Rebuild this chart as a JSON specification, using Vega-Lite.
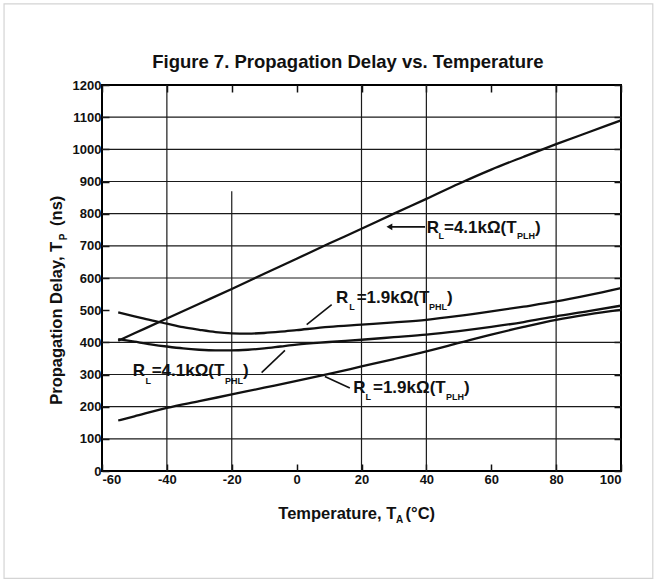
{
  "$schema": "https://vega.github.io/schema/vega-lite/v6.json",
  "width": 519,
  "height": 386,
  "autosize": {"type": "none"},
  "padding": {"left": 102, "top": 85, "right": 38, "bottom": 112},
  "background": "white",
  "config": {
    "view": {"stroke": "black", "strokeWidth": 2},
    "font": "Liberation Sans"
  },
  "datasets": {
    "curves": [
      {"series": "RL=4.1kΩ (TPLH)", "T": -55, "D": 405},
      {"series": "RL=4.1kΩ (TPLH)", "T": -50, "D": 428},
      {"series": "RL=4.1kΩ (TPLH)", "T": -40, "D": 474},
      {"series": "RL=4.1kΩ (TPLH)", "T": -30, "D": 520},
      {"series": "RL=4.1kΩ (TPLH)", "T": -20, "D": 566},
      {"series": "RL=4.1kΩ (TPLH)", "T": -10, "D": 613},
      {"series": "RL=4.1kΩ (TPLH)", "T": 0, "D": 660},
      {"series": "RL=4.1kΩ (TPLH)", "T": 10, "D": 707},
      {"series": "RL=4.1kΩ (TPLH)", "T": 20, "D": 753},
      {"series": "RL=4.1kΩ (TPLH)", "T": 30, "D": 800},
      {"series": "RL=4.1kΩ (TPLH)", "T": 40, "D": 846},
      {"series": "RL=4.1kΩ (TPLH)", "T": 50, "D": 893},
      {"series": "RL=4.1kΩ (TPLH)", "T": 60, "D": 937},
      {"series": "RL=4.1kΩ (TPLH)", "T": 70, "D": 977},
      {"series": "RL=4.1kΩ (TPLH)", "T": 80, "D": 1016},
      {"series": "RL=4.1kΩ (TPLH)", "T": 90, "D": 1053},
      {"series": "RL=4.1kΩ (TPLH)", "T": 100, "D": 1090},
      {"series": "RL=1.9kΩ (TPHL)", "T": -55, "D": 493},
      {"series": "RL=1.9kΩ (TPHL)", "T": -50, "D": 481},
      {"series": "RL=1.9kΩ (TPHL)", "T": -45, "D": 469},
      {"series": "RL=1.9kΩ (TPHL)", "T": -40, "D": 458},
      {"series": "RL=1.9kΩ (TPHL)", "T": -35, "D": 447},
      {"series": "RL=1.9kΩ (TPHL)", "T": -30, "D": 439},
      {"series": "RL=1.9kΩ (TPHL)", "T": -25, "D": 432},
      {"series": "RL=1.9kΩ (TPHL)", "T": -20, "D": 428},
      {"series": "RL=1.9kΩ (TPHL)", "T": -15, "D": 427},
      {"series": "RL=1.9kΩ (TPHL)", "T": -10, "D": 429},
      {"series": "RL=1.9kΩ (TPHL)", "T": -5, "D": 433},
      {"series": "RL=1.9kΩ (TPHL)", "T": 0, "D": 438},
      {"series": "RL=1.9kΩ (TPHL)", "T": 10, "D": 448},
      {"series": "RL=1.9kΩ (TPHL)", "T": 20, "D": 455},
      {"series": "RL=1.9kΩ (TPHL)", "T": 30, "D": 462},
      {"series": "RL=1.9kΩ (TPHL)", "T": 40, "D": 470},
      {"series": "RL=1.9kΩ (TPHL)", "T": 50, "D": 482},
      {"series": "RL=1.9kΩ (TPHL)", "T": 60, "D": 496},
      {"series": "RL=1.9kΩ (TPHL)", "T": 70, "D": 511},
      {"series": "RL=1.9kΩ (TPHL)", "T": 80, "D": 527},
      {"series": "RL=1.9kΩ (TPHL)", "T": 90, "D": 547},
      {"series": "RL=1.9kΩ (TPHL)", "T": 100, "D": 569},
      {"series": "RL=4.1kΩ (TPHL)", "T": -55, "D": 410},
      {"series": "RL=4.1kΩ (TPHL)", "T": -50, "D": 402},
      {"series": "RL=4.1kΩ (TPHL)", "T": -45, "D": 394},
      {"series": "RL=4.1kΩ (TPHL)", "T": -40, "D": 387},
      {"series": "RL=4.1kΩ (TPHL)", "T": -35, "D": 381},
      {"series": "RL=4.1kΩ (TPHL)", "T": -30, "D": 377},
      {"series": "RL=4.1kΩ (TPHL)", "T": -25, "D": 375},
      {"series": "RL=4.1kΩ (TPHL)", "T": -20, "D": 375},
      {"series": "RL=4.1kΩ (TPHL)", "T": -15, "D": 377},
      {"series": "RL=4.1kΩ (TPHL)", "T": -10, "D": 381},
      {"series": "RL=4.1kΩ (TPHL)", "T": -5, "D": 387},
      {"series": "RL=4.1kΩ (TPHL)", "T": 0, "D": 393},
      {"series": "RL=4.1kΩ (TPHL)", "T": 10, "D": 401},
      {"series": "RL=4.1kΩ (TPHL)", "T": 20, "D": 408},
      {"series": "RL=4.1kΩ (TPHL)", "T": 30, "D": 416},
      {"series": "RL=4.1kΩ (TPHL)", "T": 40, "D": 424},
      {"series": "RL=4.1kΩ (TPHL)", "T": 50, "D": 435},
      {"series": "RL=4.1kΩ (TPHL)", "T": 60, "D": 448},
      {"series": "RL=4.1kΩ (TPHL)", "T": 70, "D": 463},
      {"series": "RL=4.1kΩ (TPHL)", "T": 80, "D": 481},
      {"series": "RL=4.1kΩ (TPHL)", "T": 90, "D": 497},
      {"series": "RL=4.1kΩ (TPHL)", "T": 100, "D": 514},
      {"series": "RL=1.9kΩ (TPLH)", "T": -55, "D": 157},
      {"series": "RL=1.9kΩ (TPLH)", "T": -50, "D": 170},
      {"series": "RL=1.9kΩ (TPLH)", "T": -40, "D": 196},
      {"series": "RL=1.9kΩ (TPLH)", "T": -30, "D": 217},
      {"series": "RL=1.9kΩ (TPLH)", "T": -20, "D": 238},
      {"series": "RL=1.9kΩ (TPLH)", "T": -10, "D": 259},
      {"series": "RL=1.9kΩ (TPLH)", "T": 0, "D": 280},
      {"series": "RL=1.9kΩ (TPLH)", "T": 10, "D": 302},
      {"series": "RL=1.9kΩ (TPLH)", "T": 20, "D": 325},
      {"series": "RL=1.9kΩ (TPLH)", "T": 30, "D": 348},
      {"series": "RL=1.9kΩ (TPLH)", "T": 40, "D": 372},
      {"series": "RL=1.9kΩ (TPLH)", "T": 50, "D": 398},
      {"series": "RL=1.9kΩ (TPLH)", "T": 60, "D": 424},
      {"series": "RL=1.9kΩ (TPLH)", "T": 70, "D": 448},
      {"series": "RL=1.9kΩ (TPLH)", "T": 80, "D": 470},
      {"series": "RL=1.9kΩ (TPLH)", "T": 90, "D": 487},
      {"series": "RL=1.9kΩ (TPLH)", "T": 100, "D": 501}
    ],
    "grid": [
      {"t1": -60, "t2": 100, "d1": 100, "d2": 100},
      {"t1": -60, "t2": 100, "d1": 200, "d2": 200},
      {"t1": -60, "t2": 100, "d1": 300, "d2": 300},
      {"t1": -60, "t2": 100, "d1": 400, "d2": 400},
      {"t1": -60, "t2": 100, "d1": 600, "d2": 600},
      {"t1": -60, "t2": 100, "d1": 700, "d2": 700},
      {"t1": -60, "t2": 100, "d1": 800, "d2": 800},
      {"t1": -60, "t2": 100, "d1": 900, "d2": 900},
      {"t1": -60, "t2": 100, "d1": 1000, "d2": 1000},
      {"t1": -60, "t2": 100, "d1": 1100, "d2": 1100},
      {"t1": -40, "t2": -40, "d1": 0, "d2": 1200},
      {"t1": -20, "t2": -20, "d1": 0, "d2": 870},
      {"t1": 20, "t2": 20, "d1": 0, "d2": 1200},
      {"t1": 40, "t2": 40, "d1": 0, "d2": 1200},
      {"t1": 80, "t2": 80, "d1": 0, "d2": 1200}
    ],
    "arrows": [
      {"t1": 39.6, "d1": 759, "t2": 28.5, "d2": 759},
      {"t1": 3.1, "d1": 455, "t2": 10.8, "d2": 517},
      {"t1": -10.8, "d1": 306, "t2": -3.6, "d2": 375},
      {"t1": 8.7, "d1": 294, "t2": 16.4, "d2": 258}
    ],
    "heads": [
      {"T": 28.6, "D": 759}
    ],
    "title": [
      {"txt": "Figure 7. Propagation Delay vs. Temperature", "T": 15.8, "D": 1252}
    ],
    "labels": [
      {"txt": "R", "T": 40.09, "D": 740},
      {"txt": "=4.1kΩ(T", "T": 45.42, "D": 740},
      {"txt": ")", "T": 73.5, "D": 740},
      {"txt": "R", "T": 12.13, "D": 522},
      {"txt": "=1.9kΩ(T", "T": 18.51, "D": 522},
      {"txt": ")", "T": 46.35, "D": 522},
      {"txt": "R", "T": -50.54, "D": 294},
      {"txt": "=4.1kΩ(T", "T": -44.68, "D": 294},
      {"txt": ")", "T": -16.54, "D": 294},
      {"txt": "R", "T": 17.47, "D": 242},
      {"txt": "=1.9kΩ(T", "T": 23.54, "D": 242},
      {"txt": ")", "T": 51.6, "D": 242}
    ],
    "subs": [
      {"txt": "L", "T": 43.73, "D": 720},
      {"txt": "PLH", "T": 67.9, "D": 720},
      {"txt": "L", "T": 16.23, "D": 499},
      {"txt": "PHL", "T": 40.8, "D": 501},
      {"txt": "L", "T": -46.6, "D": 272},
      {"txt": "PHL", "T": -22.08, "D": 272},
      {"txt": "L", "T": 21.23, "D": 220},
      {"txt": "PLH", "T": 46.04, "D": 220}
    ],
    "xtitle": [
      {"txt": "Temperature, T", "T": -5.65, "D": -149},
      {"txt": "(°C)", "T": 33.6, "D": -149}
    ],
    "xtitlesub": [
      {"txt": "A", "T": 30.6, "D": -163}
    ],
    "ytitle": [
      {"txt": "Propagation Delay, T", "T": -72.4, "D": 206},
      {"txt": "(ns)", "T": -72.4, "D": 762}
    ],
    "ytitlesub": [
      {"txt": "P", "T": -70.9, "D": 717}
    ],
    "frame": [
      {"t1": -90.2, "t2": 109.8, "d1": 1452, "d2": -334}
    ]
  },
  "resolve": {"axis": {"x": "independent", "y": "independent"}},
  "layer": [
    {
      "data": {"name": "frame"},
      "mark": {"type": "rect", "fill": null, "stroke": "#d4d4d4", "strokeWidth": 1.2},
      "encoding": {
        "x": {"field": "t1", "type": "quantitative", "scale": {"domain": [-60, 100], "nice": false}, "axis": null},
        "x2": {"field": "t2"},
        "y": {"field": "d1", "type": "quantitative", "scale": {"domain": [0, 1200], "nice": false}, "axis": null},
        "y2": {"field": "d2"}
      }
    },
    {
      "data": {"name": "grid"},
      "mark": {"type": "rule", "color": "#1a1a1a", "strokeWidth": 1.2},
      "encoding": {
        "x": {"field": "t1", "type": "quantitative", "axis": null},
        "x2": {"field": "t2"},
        "y": {"field": "d1", "type": "quantitative", "axis": null},
        "y2": {"field": "d2"}
      }
    },
    {
      "data": {"name": "curves"},
      "mark": {"type": "line", "color": "#111", "strokeWidth": 2.3, "interpolate": "monotone"},
      "encoding": {
        "x": {
          "field": "T", "type": "quantitative",
          "axis": {
            "orient": "bottom", "values": [-60, -40, -20, 0, 20, 40, 60, 80, 100],
            "labelExpr": "'' + datum.value",
            "title": null, "grid": false, "domain": false,
            "tickSize": -7, "tickColor": "#111", "tickWidth": 1.5,
            "labelFont": "Liberation Sans", "labelFontWeight": "bold", "labelFontSize": 13,
            "labelColor": "#111", "labelPadding": 9
          }
        },
        "y": {
          "field": "D", "type": "quantitative",
          "axis": {
            "orient": "left", "values": [0, 100, 200, 300, 400, 500, 600, 700, 800, 900, 1000, 1100, 1200],
            "labelExpr": "'' + datum.value",
            "title": null, "grid": false, "domain": false,
            "tickSize": -7, "tickColor": "#111", "tickWidth": 1.5,
            "labelFont": "Liberation Sans", "labelFontWeight": "bold", "labelFontSize": 13,
            "labelColor": "#111", "labelPadding": 8
          }
        },
        "detail": {"field": "series", "type": "nominal"}
      }
    },
    {
      "data": {"name": "arrows"},
      "mark": {"type": "rule", "color": "#111", "strokeWidth": 1.6},
      "encoding": {
        "x": {
          "field": "t1", "type": "quantitative",
          "axis": {
            "orient": "top", "values": [-60, -40, -20, 0, 20, 40, 60, 80, 100],
            "title": null, "grid": false, "domain": false, "labels": false,
            "tickSize": -7, "tickColor": "#111", "tickWidth": 1.5
          }
        },
        "x2": {"field": "t2"},
        "y": {
          "field": "d1", "type": "quantitative",
          "axis": {
            "orient": "right", "values": [0, 100, 200, 300, 400, 500, 600, 700, 800, 900, 1000, 1100, 1200],
            "title": null, "grid": false, "domain": false, "labels": false,
            "tickSize": -7, "tickColor": "#111", "tickWidth": 1.5
          }
        },
        "y2": {"field": "d2"}
      }
    },
    {
      "data": {"name": "heads"},
      "mark": {"type": "point", "shape": "triangle-left", "filled": true, "color": "#111", "size": 45, "opacity": 1},
      "encoding": {
        "x": {"field": "T", "type": "quantitative", "axis": null},
        "y": {"field": "D", "type": "quantitative", "axis": null}
      }
    },
    {
      "data": {"name": "title"},
      "mark": {"type": "text", "align": "center", "baseline": "alphabetic", "font": "Liberation Sans", "fontWeight": "bold", "fontSize": 18.5, "color": "#111"},
      "encoding": {
        "x": {"field": "T", "type": "quantitative", "axis": null},
        "y": {"field": "D", "type": "quantitative", "axis": null},
        "text": {"field": "txt"}
      }
    },
    {
      "data": {"name": "labels"},
      "mark": {"type": "text", "align": "left", "baseline": "alphabetic", "font": "Liberation Sans", "fontWeight": "bold", "fontSize": 17, "color": "#111"},
      "encoding": {
        "x": {"field": "T", "type": "quantitative", "axis": null},
        "y": {"field": "D", "type": "quantitative", "axis": null},
        "text": {"field": "txt"}
      }
    },
    {
      "data": {"name": "subs"},
      "mark": {"type": "text", "align": "left", "baseline": "alphabetic", "font": "Liberation Sans", "fontWeight": "bold", "fontSize": 9, "color": "#111"},
      "encoding": {
        "x": {"field": "T", "type": "quantitative", "axis": null},
        "y": {"field": "D", "type": "quantitative", "axis": null},
        "text": {"field": "txt"}
      }
    },
    {
      "data": {"name": "xtitle"},
      "mark": {"type": "text", "align": "left", "baseline": "alphabetic", "font": "Liberation Sans", "fontWeight": "bold", "fontSize": 16.5, "color": "#111"},
      "encoding": {
        "x": {"field": "T", "type": "quantitative", "axis": null},
        "y": {"field": "D", "type": "quantitative", "axis": null},
        "text": {"field": "txt"}
      }
    },
    {
      "data": {"name": "xtitlesub"},
      "mark": {"type": "text", "align": "left", "baseline": "alphabetic", "font": "Liberation Sans", "fontWeight": "bold", "fontSize": 10, "color": "#111"},
      "encoding": {
        "x": {"field": "T", "type": "quantitative", "axis": null},
        "y": {"field": "D", "type": "quantitative", "axis": null},
        "text": {"field": "txt"}
      }
    },
    {
      "data": {"name": "ytitle"},
      "mark": {"type": "text", "align": "left", "baseline": "alphabetic", "angle": 270, "font": "Liberation Sans", "fontWeight": "bold", "fontSize": 16.5, "color": "#111"},
      "encoding": {
        "x": {"field": "T", "type": "quantitative", "axis": null},
        "y": {"field": "D", "type": "quantitative", "axis": null},
        "text": {"field": "txt"}
      }
    },
    {
      "data": {"name": "ytitlesub"},
      "mark": {"type": "text", "align": "left", "baseline": "alphabetic", "angle": 270, "font": "Liberation Sans", "fontWeight": "bold", "fontSize": 10, "color": "#111"},
      "encoding": {
        "x": {"field": "T", "type": "quantitative", "axis": null},
        "y": {"field": "D", "type": "quantitative", "axis": null},
        "text": {"field": "txt"}
      }
    }
  ]
}
